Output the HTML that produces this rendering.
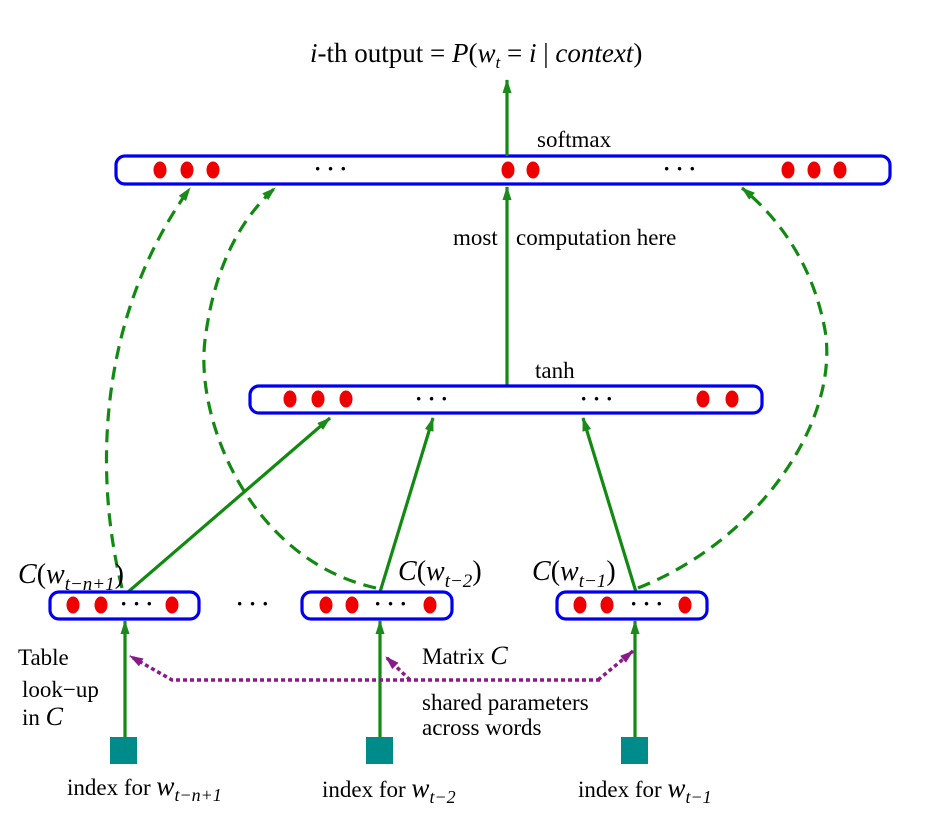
<!DOCTYPE html>
<html><head><style>
body{margin:0;background:#fff}
svg{display:block}
text{font-family:"Liberation Serif",serif;fill:#000}
</style></head><body>
<svg width="932" height="828" viewBox="0 0 932 828" xmlns="http://www.w3.org/2000/svg">
<defs>
<marker id="g" markerWidth="14" markerHeight="12" refX="13" refY="6" orient="auto" markerUnits="userSpaceOnUse"><path d="M0,1.5 L14,6 L0,10.5 Z" fill="#1a8a1a"/></marker>
<marker id="p" markerWidth="14" markerHeight="12" refX="13" refY="6" orient="auto" markerUnits="userSpaceOnUse"><path d="M0,1.5 L14,6 L0,10.5 Z" fill="#8a1a8a"/></marker>
</defs>
<g fill="none" stroke="#128a12" stroke-width="3.2">
<line x1="507" y1="156" x2="507" y2="80" marker-end="url(#g)"/>
<line x1="507" y1="386" x2="507" y2="187" marker-end="url(#g)"/>
<line x1="128" y1="592" x2="330" y2="418" marker-end="url(#g)"/>
<line x1="380" y1="592" x2="433" y2="418" marker-end="url(#g)"/>
<line x1="636" y1="592" x2="583" y2="418" marker-end="url(#g)"/>
<line x1="125" y1="737" x2="125" y2="621" marker-end="url(#g)"/>
<line x1="380" y1="737" x2="380" y2="621" marker-end="url(#g)"/>
<line x1="635" y1="737" x2="635" y2="621" marker-end="url(#g)"/>
<g stroke-dasharray="13,8">
<path d="M122,588 C95,480 95,320 190,188" marker-end="url(#g)"/>
<path d="M376,588 C250,560 195,420 205,340 C215,260 245,215 275,188" marker-end="url(#g)"/>
<path d="M638,588 C760,540 840,420 825,330 C812,260 775,215 742,188" marker-end="url(#g)"/>
</g>
</g>
<g fill="none" stroke="#8a1a8a" stroke-width="3.5" stroke-dasharray="4,3">
<polyline points="600,680 172,680 130,656" marker-end="url(#p)"/>
<line x1="410" y1="680" x2="386" y2="657" marker-end="url(#p)"/>
<polyline points="598,680 633,651" marker-end="url(#p)"/>
</g>
<g fill="#fff" stroke="#0000ee" stroke-width="3.2">
<rect x="116" y="156" width="774" height="28" rx="9"/>
<rect x="250" y="386" width="512" height="27" rx="9"/>
<rect x="50" y="592" width="149" height="27" rx="9"/>
<rect x="302" y="592" width="150" height="27" rx="9"/>
<rect x="557" y="592" width="150" height="27" rx="9"/>
</g>
<line x1="507" y1="156" x2="507" y2="142" stroke="#128a12" stroke-width="3"/>
<g fill="#ee0000">
<ellipse cx="160" cy="170" rx="6.5" ry="8.5"/><ellipse cx="187" cy="170" rx="6.5" ry="8.5"/><ellipse cx="213" cy="170" rx="6.5" ry="8.5"/>
<ellipse cx="508" cy="170" rx="6.5" ry="8.5"/><ellipse cx="533" cy="170" rx="6.5" ry="8.5"/>
<ellipse cx="788" cy="170" rx="6.5" ry="8.5"/><ellipse cx="814" cy="170" rx="6.5" ry="8.5"/><ellipse cx="840" cy="170" rx="6.5" ry="8.5"/>
<ellipse cx="290" cy="399" rx="6.5" ry="8.5"/><ellipse cx="318" cy="399" rx="6.5" ry="8.5"/><ellipse cx="346" cy="399" rx="6.5" ry="8.5"/>
<ellipse cx="703" cy="399" rx="6.5" ry="8.5"/><ellipse cx="732" cy="399" rx="6.5" ry="8.5"/>
<ellipse cx="73" cy="605" rx="6.5" ry="8.5"/><ellipse cx="101" cy="605" rx="6.5" ry="8.5"/><ellipse cx="172" cy="605" rx="6.5" ry="8.5"/>
<ellipse cx="326" cy="605" rx="6.5" ry="8.5"/><ellipse cx="352" cy="605" rx="6.5" ry="8.5"/><ellipse cx="430" cy="605" rx="6.5" ry="8.5"/>
<ellipse cx="580" cy="605" rx="6.5" ry="8.5"/><ellipse cx="607" cy="605" rx="6.5" ry="8.5"/><ellipse cx="685" cy="605" rx="6.5" ry="8.5"/>
</g>
<g fill="#008b8b">
<rect x="110" y="737" width="27" height="27"/><rect x="366" y="737" width="27" height="27"/><rect x="621" y="737" width="27" height="27"/>
</g>
<g font-size="22" font-weight="bold">
<text x="314" y="176">· · ·</text><text x="663" y="176">· · ·</text>
<text x="415" y="406">· · ·</text><text x="580" y="406">· · ·</text>
<text x="120" y="611">· · ·</text><text x="374" y="611">· · ·</text><text x="630" y="611">· · ·</text>
<text x="236" y="611">· · ·</text>
</g>
<text x="310" y="62" font-size="27"><tspan font-style="italic">i</tspan>-th output = <tspan font-style="italic">P</tspan>(<tspan font-style="italic">w</tspan><tspan font-style="italic" font-size="17" dy="6">t</tspan><tspan dy="-6">  =  </tspan><tspan font-style="italic">i</tspan> | <tspan font-style="italic">context</tspan>)</text>
<text x="537" y="147" font-size="23">softmax</text>
<text x="453" y="245" font-size="23">most</text><text x="516" y="245" font-size="23">computation here</text>
<text x="535" y="378" font-size="23">tanh</text>
<text x="18" y="583" font-size="28"><tspan font-style="italic">C</tspan>(<tspan font-style="italic">w</tspan><tspan font-style="italic" font-size="19" dy="7">t−n+1</tspan><tspan dy="-7">)</tspan></text>
<text x="398" y="580" font-size="28"><tspan font-style="italic">C</tspan>(<tspan font-style="italic">w</tspan><tspan font-style="italic" font-size="19" dy="7">t−2</tspan><tspan dy="-7">)</tspan></text>
<text x="532" y="580" font-size="28"><tspan font-style="italic">C</tspan>(<tspan font-style="italic">w</tspan><tspan font-style="italic" font-size="19" dy="7">t−1</tspan><tspan dy="-7">)</tspan></text>
<g font-size="23">
<text x="18" y="665">Table</text><text x="22" y="697">look−up</text><text x="22" y="725">in <tspan font-style="italic" font-size="26">C</tspan></text>
<text x="422" y="664">Matrix <tspan font-style="italic" font-size="26">C</tspan></text>
<text x="422" y="710">shared parameters</text><text x="422" y="735">across words</text>
<text x="67" y="795">index for <tspan font-style="italic" font-size="27">w</tspan><tspan font-style="italic" font-size="18" dy="6">t−n+1</tspan></text>
<text x="322" y="797">index for <tspan font-style="italic" font-size="27">w</tspan><tspan font-style="italic" font-size="18" dy="6">t−2</tspan></text>
<text x="578" y="797">index for <tspan font-style="italic" font-size="27">w</tspan><tspan font-style="italic" font-size="18" dy="6">t−1</tspan></text>
</g>
</svg>
</body></html>
